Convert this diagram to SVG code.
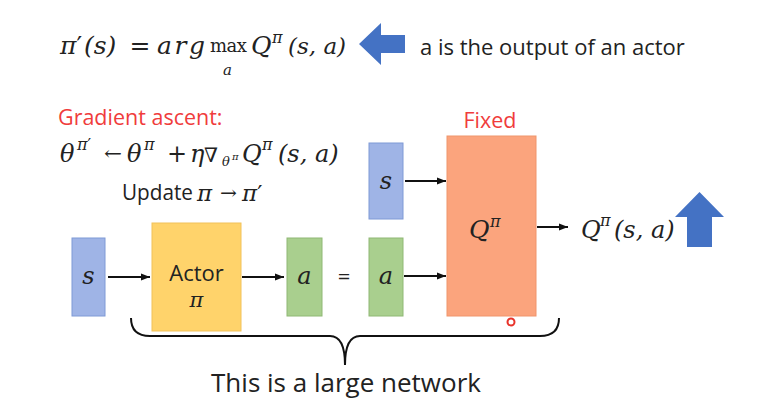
<svg xmlns="http://www.w3.org/2000/svg" width="767" height="400" viewBox="0 0 767 400">
<style>
.m{font-family:"DejaVu Serif","Liberation Serif",serif;font-style:italic;fill:#222}
.r{font-family:"DejaVu Serif","Liberation Serif",serif;font-style:normal;fill:#222}
.t{font-family:"Open Sans","Liberation Sans",sans-serif;fill:#222}
.red{fill:#f03c3c}
.ln{stroke:#111;stroke-width:2;fill:none}
.bl{fill:#9fb4e6;stroke:#7f9ad6;stroke-width:1}
.gr{fill:#a9cf8e;stroke:#8fb874;stroke-width:1}
.big{fill:#4472c4}
</style>
<defs>
<marker id="ah" viewBox="0 0 10 10" refX="10" refY="5" markerWidth="4.5" markerHeight="4.5" orient="auto"><path d="M0,1 L10,5 L0,9 Z" fill="#111"/></marker>
</defs>
<rect width="767" height="400" fill="#fff"/>
<g id="formula-top">
<text class="m" x="60" y="54" font-size="25">π<tspan class="r">′</tspan></text>
<text class="m" x="84" y="54" font-size="25">(s)</text>
<text class="r" x="140" y="54" font-size="25" text-anchor="middle">=</text>
<text class="m" x="157" y="54" font-size="25" textLength="48" lengthAdjust="spacing">arg</text>
<text class="r" x="210" y="52" font-size="18" textLength="37" lengthAdjust="spacing">max</text>
<text class="m" x="223" y="75" font-size="15">a</text>
<text class="m" x="251" y="54" font-size="25">Q</text>
<text class="m" x="272" y="43" font-size="16">π</text>
<text class="m" x="288" y="54" font-size="23">(s, a)</text>
</g>
<g id="arrow-left"><path class="big" d="M359,44 L381,23 L381,35 L405,35 L405,53 L381,53 L381,65 Z"/></g>
<g id="note"><text class="t" x="420" y="55" font-size="22">a is the output of an actor</text></g>
<g id="gradient">
<text class="t red" x="58" y="125" font-size="21.5">Gradient ascent:</text>
<text class="m" x="60" y="162" font-size="24">θ</text>
<text class="m" x="77" y="150" font-size="16">π<tspan class="r">′</tspan></text>
<text class="r" x="104" y="160" font-size="20" textLength="18" lengthAdjust="spacingAndGlyphs">←</text>
<text class="m" x="127" y="162" font-size="24">θ</text>
<text class="m" x="144" y="150" font-size="16">π</text>
<text class="r" x="167" y="162" font-size="24">+</text>
<text class="m" x="190" y="162" font-size="24">η</text>
<text class="r" x="204" y="162" font-size="20">∇</text>
<text class="m" x="222" y="166" font-size="13">θ</text>
<text class="m" x="232" y="160" font-size="10">π</text>
<text class="m" x="242" y="162" font-size="24">Q</text>
<text class="m" x="262" y="150" font-size="16">π</text>
<text class="m" x="278" y="162" font-size="24">(s, a)</text>
<text class="t" x="122" y="200" font-size="21" textLength="71" lengthAdjust="spacingAndGlyphs">Update</text>
<text class="m" x="197" y="201" font-size="23">π</text>
<text class="r" x="220" y="199" font-size="18" textLength="17" lengthAdjust="spacingAndGlyphs">→</text>
<text class="m" x="242" y="201" font-size="23">π<tspan class="r">′</tspan></text>
</g>
<g id="s1"><rect class="bl" x="72" y="238" width="33" height="78"/><text class="m" x="88.5" y="284" font-size="24" text-anchor="middle">s</text></g>
<g id="actor"><rect x="152" y="223" width="89" height="108" fill="#ffd36b" stroke="#f2c25a"/><text class="t" x="196.5" y="281" font-size="22" text-anchor="middle">Actor</text><text class="m" x="196.5" y="307" font-size="21" text-anchor="middle">π</text></g>
<g id="a1"><rect class="gr" x="287" y="238" width="35" height="78"/><text class="m" x="304.5" y="284" font-size="24" text-anchor="middle">a</text></g>
<g id="eq"><text class="t" x="344" y="284" font-size="22" text-anchor="middle">=</text></g>
<g id="a2"><rect class="gr" x="369" y="238" width="34" height="78"/><text class="m" x="386" y="284" font-size="24" text-anchor="middle">a</text></g>
<g id="s2"><rect class="bl" x="369" y="143" width="34" height="76"/><text class="m" x="386" y="189" font-size="24" text-anchor="middle">s</text></g>
<g id="q"><rect x="447" y="136" width="89" height="180" fill="#fba47d" stroke="#f0956c"/><text class="m" x="469" y="238" font-size="25">Q</text><text class="m" x="490" y="227" font-size="16">π</text>
<text class="t red" x="490" y="128" font-size="21.5" text-anchor="middle">Fixed</text></g>
<g id="qout"><text class="m" x="581" y="238" font-size="24">Q</text><text class="m" x="600" y="226" font-size="16">π</text><text class="m" x="614" y="238" font-size="24">(s, a)</text></g>
<g id="arrow-up"><path class="big" d="M699.5,192 L724,217 L712,217 L712,247 L687,247 L687,217 L675,217 Z"/></g>
<g id="connectors">
<line class="ln" x1="108" y1="277" x2="150" y2="277" marker-end="url(#ah)"/>
<line class="ln" x1="242" y1="277" x2="284" y2="277" marker-end="url(#ah)"/>
<line class="ln" x1="405" y1="181" x2="446" y2="181" marker-end="url(#ah)"/>
<line class="ln" x1="404" y1="276" x2="446" y2="276" marker-end="url(#ah)"/>
<line class="ln" x1="537" y1="227" x2="568" y2="227" marker-end="url(#ah)"/>
</g>
<g id="brace"><path class="ln" stroke-width="2.5" d="M131,318 Q131,336 150,336 L330,336 Q345,336 345,365 Q345,336 360,336 L540,336 Q559,336 559,318"/>
<text class="t" x="346" y="392" font-size="26" text-anchor="middle">This is a large network</text></g>
<circle cx="511" cy="322" r="3.5" fill="none" stroke="#e8332a" stroke-width="2"/>
</svg>
